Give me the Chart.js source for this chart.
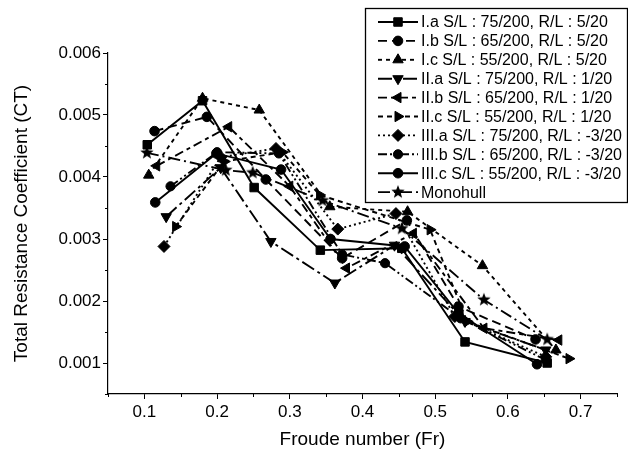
<!DOCTYPE html>
<html>
<head>
<meta charset="utf-8">
<script src="https://cdn.jsdelivr.net/npm/chart.js@4.4.1/dist/chart.umd.min.js"></script>
<style>
    html, body { margin: 0; padding: 0; background: #fff; }
    #cadre { width: 628px; height: 454px; }
</style>
</head>
<body>
<div id="cadre"><canvas id="graphique" width="628" height="454"></canvas></div>
<script>
// ==================== DONNEES ====================

const fr_Ia  = [0.104, 0.180, 0.251, 0.342, 0.454, 0.541, 0.654];
const ct_Ia  = [0.00452, 0.00523, 0.00383, 0.00282, 0.00285, 0.00134, 0.00100];

const fr_Ib  = [0.114, 0.186, 0.267, 0.372, 0.461, 0.532, 0.638];
const ct_Ib  = [0.00474, 0.00497, 0.00396, 0.00269, 0.00330, 0.00191, 0.00138];

const fr_Ic  = [0.106, 0.180, 0.258, 0.355, 0.462, 0.565, 0.666];
const ct_Ic  = [0.00403, 0.00527, 0.00508, 0.00352, 0.00344, 0.00257, 0.00121];

const fr_IIa = [0.130, 0.205, 0.274, 0.362, 0.444, 0.541, 0.652];
const ct_IIa = [0.00336, 0.00415, 0.00296, 0.00229, 0.00290, 0.00167, 0.00121];

const fr_IIb = [0.117, 0.216, 0.300, 0.378, 0.470, 0.567, 0.670];
const ct_IIb = [0.00418, 0.00481, 0.00385, 0.00253, 0.00309, 0.00156, 0.00137];

const fr_IIc = [0.143, 0.210, 0.290, 0.341, 0.493, 0.544, 0.684];
const ct_IIc = [0.00320, 0.00425, 0.00440, 0.00371, 0.00315, 0.00167, 0.00107];

const fr_IIIa = [0.127, 0.205, 0.281, 0.366, 0.446, 0.527, 0.652];
const ct_IIIa = [0.00288, 0.00432, 0.00446, 0.00316, 0.00341, 0.00175, 0.00110];

const fr_IIIb = [0.136, 0.200, 0.285, 0.372, 0.431, 0.535, 0.652];
const ct_IIIb = [0.00385, 0.00440, 0.00438, 0.00275, 0.00261, 0.00172, 0.00105];

const fr_IIIc = [0.115, 0.199, 0.288, 0.356, 0.458, 0.532, 0.640];
const ct_IIIc = [0.00359, 0.00438, 0.00412, 0.00300, 0.00288, 0.00180, 0.00098];

const fr_mono = [0.1035, 0.212, 0.249, 0.345, 0.454, 0.567, 0.654];
const ct_mono = [0.00439, 0.00411, 0.00407, 0.00362, 0.00317, 0.00202, 0.00138];

const X_TICKS = [0.1, 0.2, 0.3, 0.4, 0.5, 0.6, 0.7];
const X_MINEURS = [0.05, 0.15, 0.25, 0.35, 0.45, 0.55, 0.65, 0.75];
const Y_TICKS = [0.001, 0.002, 0.003, 0.004, 0.005, 0.006];
const Y_MINEURS = [0.0005, 0.0015, 0.0025, 0.0035, 0.0045, 0.0055];

const POLICE = "'Liberation Sans', Arial, sans-serif";

// etoile pleine pour le monocoque
function etoile(r) {
    const c = document.createElement('canvas');
    const s = Math.ceil(r * 2 + 2);
    c.width = s;
    c.height = s;
    const g = c.getContext('2d');
    g.fillStyle = '#000';
    g.beginPath();
    for (let i = 0; i < 10; i++) {
        const a = -Math.PI / 2 + i * Math.PI / 5;
        const rr = i % 2 === 0 ? r : r * 0.42;
        g.lineTo(s / 2 + rr * Math.cos(a), s / 2 + rr * Math.sin(a));
    }
    g.closePath();
    g.fill();
    return c;
}

const SERIES = [
    { nom: 'I.a S/L : 75/200, R/L : 5/20',    fr: fr_Ia,   ct: ct_Ia,   trait: [],                 forme: 'rect',     rot: 0,   r: 6 },
    { nom: 'I.b S/L : 65/200, R/L : 5/20',    fr: fr_Ib,   ct: ct_Ib,   trait: [9, 5],             forme: 'circle',   rot: 0,   r: 4.8 },
    { nom: 'I.c S/L : 55/200, R/L : 5/20',    fr: fr_Ic,   ct: ct_Ic,   trait: [4, 4],             forme: 'triangle', rot: 0,   r: 6 },
    { nom: 'II.a S/L : 75/200, R/L : 1/20',   fr: fr_IIa,  ct: ct_IIa,  trait: [14, 4, 3, 4],      forme: 'triangle', rot: 180, r: 6 },
    { nom: 'II.b S/L : 65/200, R/L : 1/20',   fr: fr_IIb,  ct: ct_IIb,  trait: [9, 4, 4, 4],       forme: 'triangle', rot: 270, r: 6 },
    { nom: 'II.c S/L : 55/200, R/L : 1/20',   fr: fr_IIc,  ct: ct_IIc,  trait: [5, 4],             forme: 'triangle', rot: 90,  r: 6 },
    { nom: 'III.a S/L : 75/200, R/L : -3/20', fr: fr_IIIa, ct: ct_IIIa, trait: [2, 3],             forme: 'rectRot',  rot: 0,   r: 6 },
    { nom: 'III.b S/L : 65/200, R/L : -3/20', fr: fr_IIIb, ct: ct_IIIb, trait: [9, 3, 2, 3, 2, 3], forme: 'circle',   rot: 0,   r: 4.6 },
    { nom: 'III.c S/L : 55/200, R/L : -3/20', fr: fr_IIIc, ct: ct_IIIc, trait: [],                 forme: 'circle',   rot: 0,   r: 4.8 },
    { nom: 'Monohull',                        fr: fr_mono, ct: ct_mono, trait: [12, 4, 2, 4],      forme: etoile(7), rot: 0,   r: 7 }
];

// ==================== PLUGINS ====================

// petites graduations (les majeures sont faites par Chart.js)
const graduationsMineures = {
    id: 'graduationsMineures',
    afterDraw(chart) {
        const { ctx, scales: { x, y } } = chart;
        ctx.save();
        ctx.strokeStyle = '#000';
        ctx.lineWidth = 1;
        ctx.setLineDash([]);
        X_MINEURS.forEach(v => {
            const px = Math.round(x.getPixelForValue(v)) + 0.5;
            ctx.beginPath();
            ctx.moveTo(px, y.bottom);
            ctx.lineTo(px, y.bottom + 3);
            ctx.stroke();
        });
        Y_MINEURS.forEach(v => {
            const py = Math.round(y.getPixelForValue(v)) + 0.5;
            ctx.beginPath();
            ctx.moveTo(x.left, py);
            ctx.lineTo(x.left - 3, py);
            ctx.stroke();
        });
        ctx.restore();
    }
};

// legende encadree facon Origin
const legendeOrigin = {
    id: 'legendeOrigin',
    afterDraw(chart) {
        const ctx = chart.ctx;
        const bx = 365, by = 8, bw = 262, bh = 194;
        const y0 = 22, pas = 18.9;
        ctx.save();
        ctx.fillStyle = '#fff';
        ctx.fillRect(bx, by, bw, bh);
        ctx.strokeStyle = '#000';
        ctx.lineWidth = 1.3;
        ctx.strokeRect(bx + 0.5, by + 0.5, bw, bh);

        ctx.font = '16px ' + POLICE;
        ctx.textBaseline = 'middle';
        SERIES.forEach((s, i) => {
            const ly = y0 + i * pas;
            ctx.setLineDash(s.trait);
            ctx.lineWidth = 1.9;
            ctx.beginPath();
            ctx.moveTo(378, ly);
            ctx.lineTo(418, ly);
            ctx.stroke();
            ctx.setLineDash([]);
            ctx.fillStyle = '#000';
            ctx.lineWidth = 1;
            Chart.helpers.drawPoint(ctx, {
                pointStyle: s.forme,
                rotation: s.rot,
                radius: s.r,
                borderWidth: 1
            }, 398, ly);
            ctx.fillStyle = '#000';
            ctx.fillText(s.nom, 421, ly + 1);
        });
        ctx.restore();
    }
};

// ==================== GRAPHIQUE ====================

const jeux = SERIES.map(s => ({
    label: s.nom,
    data: s.fr.map((f, i) => ({ x: f, y: s.ct[i] })),
    showLine: true,
    fill: false,
    tension: 0,
    borderColor: '#000',
    backgroundColor: '#000',
    borderWidth: 1.9,
    borderDash: s.trait,
    pointStyle: s.forme,
    pointRotation: s.rot,
    pointRadius: s.r,
    pointBorderWidth: 1,
    pointBorderColor: '#000',
    pointBackgroundColor: '#000',
    clip: false
}));

new Chart(document.getElementById('graphique'), {
    type: 'scatter',
    data: { datasets: jeux },
    options: {
        responsive: false,
        animation: false,
        devicePixelRatio: 1,
        layout: { padding: { top: 53, right: 11, bottom: 0, left: 0 } },
        plugins: {
            legend: { display: false },
            tooltip: { enabled: false }
        },
        scales: {
            x: {
                type: 'linear',
                min: 0.05,
                max: 0.75,
                afterBuildTicks: axe => { axe.ticks = X_TICKS.map(v => ({ value: v })); },
                afterFit: axe => { axe.height = 60; },
                grid: { drawOnChartArea: false, drawTicks: true, tickLength: 5, tickColor: '#000', tickWidth: 1 },
                border: { display: true, color: '#000', width: 1.2 },
                ticks: {
                    color: '#000',
                    padding: 3,
                    maxRotation: 0,
                    font: { family: POLICE, size: 17 },
                    callback: v => v.toFixed(1)
                },
                title: {
                    display: true,
                    text: 'Froude number (Fr)',
                    color: '#000',
                    font: { family: POLICE, size: 19 },
                    padding: { top: 0, bottom: 3 }
                }
            },
            y: {
                type: 'linear',
                min: 0.0005,
                max: 0.006,
                afterBuildTicks: axe => { axe.ticks = Y_TICKS.map(v => ({ value: v })); },
                afterFit: axe => { axe.width = 108; },
                grid: { drawOnChartArea: false, drawTicks: true, tickLength: 5, tickColor: '#000', tickWidth: 1 },
                border: { display: true, color: '#000', width: 1.2 },
                ticks: {
                    color: '#000',
                    padding: 2,
                    font: { family: POLICE, size: 17 },
                    callback: v => v.toFixed(3)
                },
                title: {
                    display: true,
                    text: 'Total Resistance Coefficient (CT)',
                    color: '#000',
                    font: { family: POLICE, size: 19 },
                    padding: { top: 10, bottom: 0 }
                }
            }
        }
    },
    plugins: [graduationsMineures, legendeOrigin]
});
</script>
</body>
</html>
